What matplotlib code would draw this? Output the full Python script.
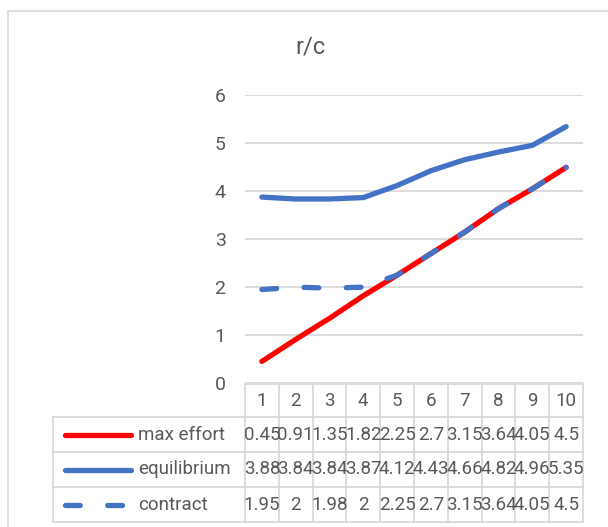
import matplotlib
matplotlib.use("Agg")
import matplotlib.pyplot as plt
from matplotlib.lines import Line2D
from matplotlib.transforms import blended_transform_factory
from matplotlib import font_manager

names = {f.name for f in font_manager.fontManager.ttflist}
fam = [f for f in ["Roboto", "DejaVu Sans"] if f in names]
plt.rcParams['font.family'] = fam

categories = [1, 2, 3, 4, 5, 6, 7, 8, 9, 10]
max_effort = [0.45, 0.91, 1.35, 1.82, 2.25, 2.7, 3.15, 3.64, 4.05, 4.5]
equilibrium = [3.88, 3.84, 3.84, 3.87, 4.12, 4.43, 4.66, 4.82, 4.96, 5.35]
contract = [1.95, 2, 1.98, 2, 2.25, 2.7, 3.15, 3.64, 4.05, 4.5]
series_names = ["max effort", "equilibrium", "contract"]
title = "r/c"

W, H = 608, 527
fig = plt.figure(figsize=(W / 100, H / 100), dpi=100)

def fx(px):
    return px / W

def fy(py):
    return 1 - py / H

GRID = "#d9d9d9"
TXT = "#595959"
RED = "#ff0000"
BLUE = "#4472c4"

# chart area border (cropped on right/bottom)
fig.add_artist(Line2D([fx(7.5), fx(7.5)], [fy(11), 0], color=GRID, lw=1.2, transform=fig.transFigure))
fig.add_artist(Line2D([fx(7.5), 1], [fy(11), fy(11)], color=GRID, lw=1.2, transform=fig.transFigure))

left, right, top, bottom = 245, 583, 95.5, 383
ax = fig.add_axes([fx(left), fy(bottom), fx(right) - fx(left), fy(top) - fy(bottom)])
ax.set_xlim(0.5, 10.5)
ax.set_ylim(0, 6)
ax.set_yticks(range(0, 7))
ax.yaxis.grid(True, color=GRID, lw=1.3)
ax.set_axisbelow(True)
for s in ax.spines.values():
    s.set_visible(False)
ax.set_xticks([])
ax.tick_params(axis='y', length=0, pad=14, labelsize=14, labelcolor=TXT)

lw = 3.8
dash = (0, (2.8, 5.2))
ax.plot(categories, max_effort, color=RED, lw=lw, solid_capstyle='round', solid_joinstyle='round', zorder=3)
ax.plot(categories, equilibrium, color=BLUE, lw=lw, solid_capstyle='round', solid_joinstyle='round', zorder=4)
ax.plot(categories, contract, color=BLUE, lw=lw, linestyle=dash, dash_capstyle='round', zorder=5)

fig.text(fx(310), fy(47), title, ha='center', va='center', fontsize=17, color=TXT)

# data table
tr = blended_transform_factory(ax.transData, fig.transFigure)
row_y = [384, 417, 452, 487, 522]
label_left = 53
fig.add_artist(Line2D([0.5, 10.5], [fy(row_y[0])] * 2, color=GRID, lw=1.3, transform=tr))
for yy in row_y[1:]:
    fig.add_artist(Line2D([fx(label_left), fx(right)], [fy(yy)] * 2, color=GRID, lw=1.3, transform=fig.transFigure))
for k in range(11):
    fig.add_artist(Line2D([k + 0.5, k + 0.5], [fy(row_y[0]), fy(row_y[-1])], color=GRID, lw=1.3, transform=tr))
fig.add_artist(Line2D([fx(label_left)] * 2, [fy(row_y[1]), fy(row_y[-1])], color=GRID, lw=1.3, transform=fig.transFigure))

fs = 13.5
for c in categories:
    fig.text(c, fy((row_y[0] + row_y[1]) / 2), str(c), transform=tr, ha='center', va='center', fontsize=fs, color=TXT)

rows = [max_effort, equilibrium, contract]
styles = [dict(color=RED, ls='-'), dict(color=BLUE, ls='-'), dict(color=BLUE, ls=dash)]
for i, (name, vals, st) in enumerate(zip(series_names, rows, styles)):
    yc = fy((row_y[i + 1] + row_y[i + 2]) / 2)
    fig.add_artist(Line2D([fx(64.5), fx(131)], [yc, yc], lw=lw, color=st['color'], linestyle=st['ls'],
                          solid_capstyle='round', dash_capstyle='round', transform=fig.transFigure))
    fig.text(fx(138), yc, name, ha='left', va='center', fontsize=fs, color=TXT)
    for c, v in zip(categories, vals):
        fig.text(c, yc, f"{v:g}", transform=tr, ha='center', va='center', fontsize=fs, color=TXT)

fig.savefig("out.png", dpi=100)
